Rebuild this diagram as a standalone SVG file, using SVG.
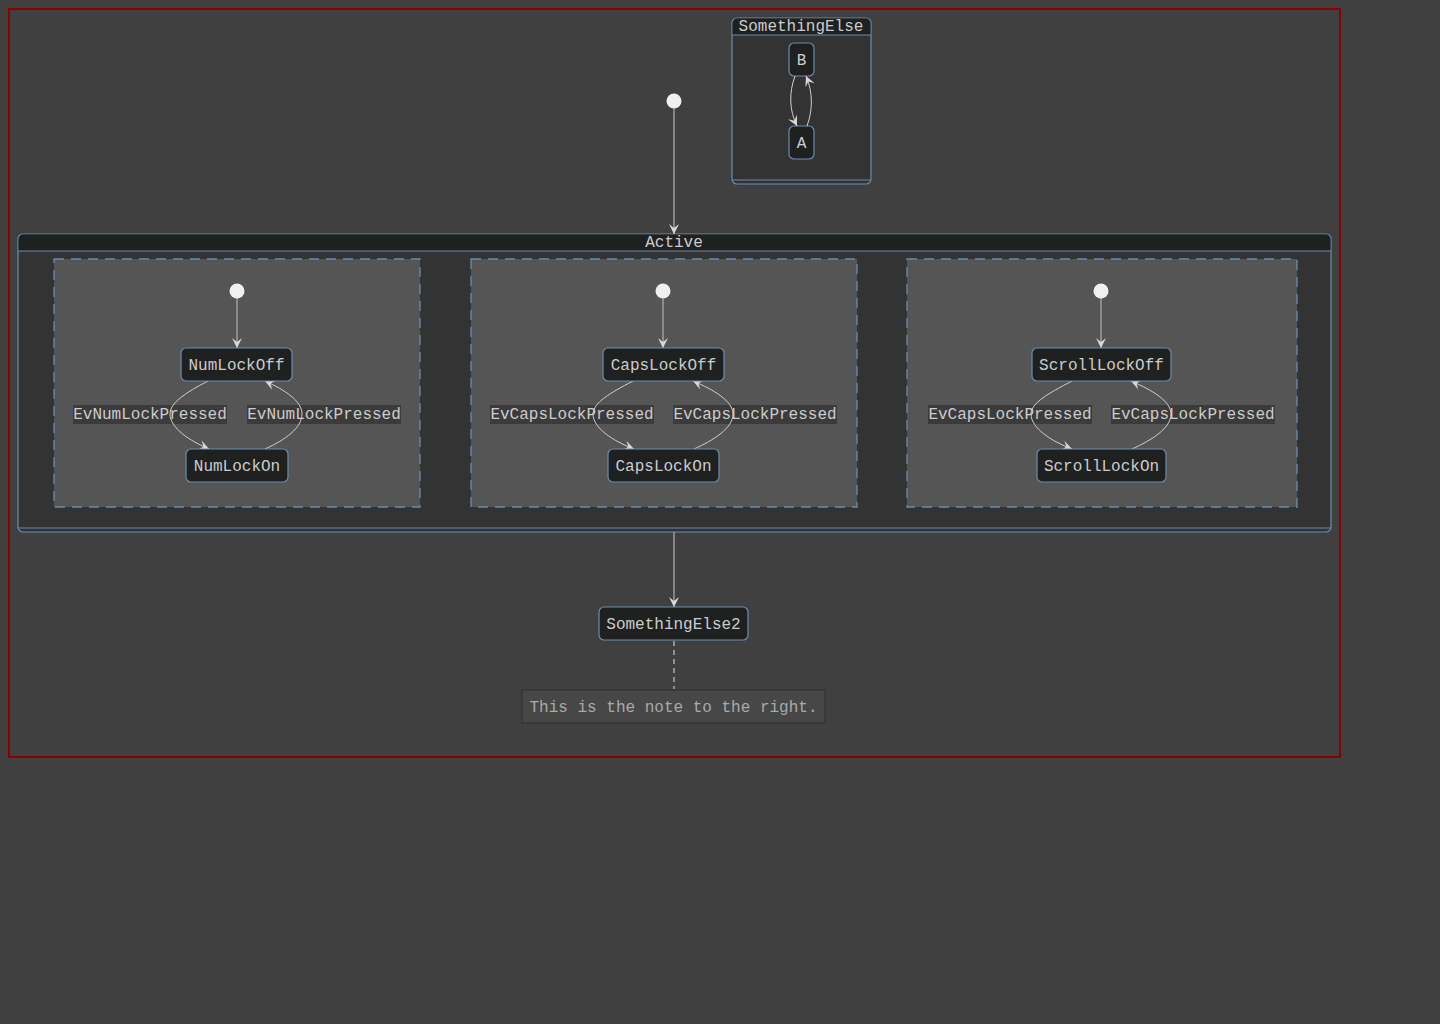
<svg xmlns="http://www.w3.org/2000/svg" width="1440" height="1024" viewBox="0 0 1440 1024">
<defs>
<style>
text{font-family:"Liberation Mono","DejaVu Sans Mono",monospace;font-size:16px;fill:#cccccc;text-anchor:middle;dominant-baseline:central}
.node{fill:#1f2121;stroke:#6a8caf;stroke-width:1.2}
.comp{fill:#333333;stroke:#6a8caf;stroke-width:1.2}
.hdr{fill:#1f2121}
.hl{stroke:#6a8caf;stroke-width:1.2;fill:none}
.region{fill:#555555;stroke:#6a8caf;stroke-width:1.3;stroke-dasharray:10 7}
.edge{fill:none;stroke:#aaaaaa;stroke-width:1.3;marker-end:url(#arr)}
.cedge{fill:none;stroke:#d0d0d0;stroke-width:1;marker-end:url(#arr)}
.lblbg{fill:#3b3b3b}
.init{fill:#f0f0f0}
</style>
<marker id="arr" viewBox="-1 -6 12 12" refX="10" refY="0" markerWidth="12" markerHeight="12" markerUnits="userSpaceOnUse" orient="auto">
<path d="M0,-5 L10,0 L0,5 L4,0 Z" fill="#d8d8d8"/>
</marker>
</defs>
<rect x="0" y="0" width="1440" height="1024" fill="#404040"/>
<rect x="9" y="9" width="1331" height="748" fill="none" stroke="#8b0000" stroke-width="2"/>

<g id="SomethingElse">
<rect class="comp" x="732" y="18" width="139" height="166" rx="5"/>
<path class="hdr" d="M737,18.6 H866 A4.4,4.4 0 0 1 870.4,23 V35 H732.6 V23 A4.4,4.4 0 0 1 737,18.6 Z"/>
<line class="hl" x1="732" y1="35" x2="871" y2="35"/>
<line class="hl" x1="732" y1="180" x2="871" y2="180"/>
<text x="801" y="27">SomethingElse</text>
</g>
<g id="B"><rect class="node" x="789" y="43" width="25" height="33" rx="5"/><text x="801.5" y="60.5">B</text></g>
<g id="A"><rect class="node" x="789" y="126" width="25" height="33" rx="5"/><text x="801.5" y="143.5">A</text></g>

<g id="Active">
<rect class="comp" x="18" y="234" width="1313" height="298" rx="5"/>
<path class="hdr" d="M23,234.6 H1326 A4.4,4.4 0 0 1 1330.4,239 V251 H18.6 V239 A4.4,4.4 0 0 1 23,234.6 Z"/>
<line class="hl" x1="18" y1="251" x2="1331" y2="251"/>
<line class="hl" x1="18" y1="528" x2="1331" y2="528"/>
<text x="674" y="243">Active</text>
</g>
<g id="region1"><rect class="region" x="54" y="259" width="366" height="248"/></g>
<g id="region2"><rect class="region" x="471" y="259" width="386" height="248"/></g>
<g id="region3"><rect class="region" x="907" y="259" width="390" height="248"/></g>

<g id="labels">
<rect class="lblbg" x="73" y="405" width="154" height="19"/><text x="150" y="415">EvNumLockPressed</text>
<rect class="lblbg" x="247" y="405" width="154" height="19"/><text x="324" y="415">EvNumLockPressed</text>
<rect class="lblbg" x="490" y="405" width="164" height="19"/><text x="572" y="415">EvCapsLockPressed</text>
<rect class="lblbg" x="673" y="405" width="164" height="19"/><text x="755" y="415">EvCapsLockPressed</text>
<rect class="lblbg" x="928" y="405" width="164" height="19"/><text x="1010" y="415">EvCapsLockPressed</text>
<rect class="lblbg" x="1111" y="405" width="164" height="19"/><text x="1193" y="415">EvCapsLockPressed</text>
</g>

<g id="connectors">
<line class="edge" x1="674" y1="108" x2="674" y2="234"/>
<path class="cedge" d="M795,76 C789,92 789,110 797,126"/>
<path class="cedge" d="M807,126 C813,110 813,92 806,76"/>
<line class="edge" x1="237" y1="298" x2="237" y2="348"/>
<path class="cedge" d="M208,381 C185,393 170,403 170,414 C170,428 190,441 209,449"/>
<path class="cedge" d="M265,449 C285,440 302,428 302,414 C302,401 285,390 265,381"/>
<line class="edge" x1="663" y1="298" x2="663" y2="348"/>
<path class="cedge" d="M633,381 C610,393 593,403 593,414 C593,428 613,441 634,449"/>
<path class="cedge" d="M694,449 C714,440 733,428 733,414 C733,401 714,390 693,381"/>
<line class="edge" x1="1101" y1="298" x2="1101" y2="348"/>
<path class="cedge" d="M1072,381 C1049,393 1031,403 1031,414 C1031,428 1051,441 1072,449"/>
<path class="cedge" d="M1132,449 C1152,440 1171,428 1171,414 C1171,401 1152,390 1131,381"/>
<line class="edge" x1="674" y1="532" x2="674" y2="607"/>
<line x1="674" y1="641" x2="674" y2="689" stroke="#aaaaaa" stroke-width="1.5" stroke-dasharray="5 4"/>
</g>

<g id="init0"><circle class="init" cx="674" cy="101" r="7.5"/></g>
<g id="init1"><circle class="init" cx="237" cy="291" r="7.5"/></g>
<g id="init2"><circle class="init" cx="663" cy="291" r="7.5"/></g>
<g id="init3"><circle class="init" cx="1101" cy="291" r="7.5"/></g>

<g id="NumLockOff"><rect class="node" x="181" y="348" width="111" height="33" rx="5"/><text x="236.5" y="365.5">NumLockOff</text></g>
<g id="NumLockOn"><rect class="node" x="186" y="449" width="102" height="33" rx="5"/><text x="237" y="466.5">NumLockOn</text></g>
<g id="CapsLockOff"><rect class="node" x="603" y="348" width="121" height="33" rx="5"/><text x="663.5" y="365.5">CapsLockOff</text></g>
<g id="CapsLockOn"><rect class="node" x="608" y="449" width="111" height="33" rx="5"/><text x="663.5" y="466.5">CapsLockOn</text></g>
<g id="ScrollLockOff"><rect class="node" x="1032" y="348" width="139" height="33" rx="5"/><text x="1101.5" y="365.5">ScrollLockOff</text></g>
<g id="ScrollLockOn"><rect class="node" x="1037" y="449" width="129" height="33" rx="5"/><text x="1101.5" y="466.5">ScrollLockOn</text></g>

<g id="SomethingElse2"><rect class="node" x="599" y="607" width="149" height="33" rx="5"/><text x="673.5" y="624.5">SomethingElse2</text></g>
<g id="note"><rect x="522" y="690" width="303" height="33" fill="#474747" stroke="#333333" stroke-width="1.2"/><text x="673.5" y="707.5" style="fill:#aaaaaa">This is the note to the right.</text></g>
</svg>
